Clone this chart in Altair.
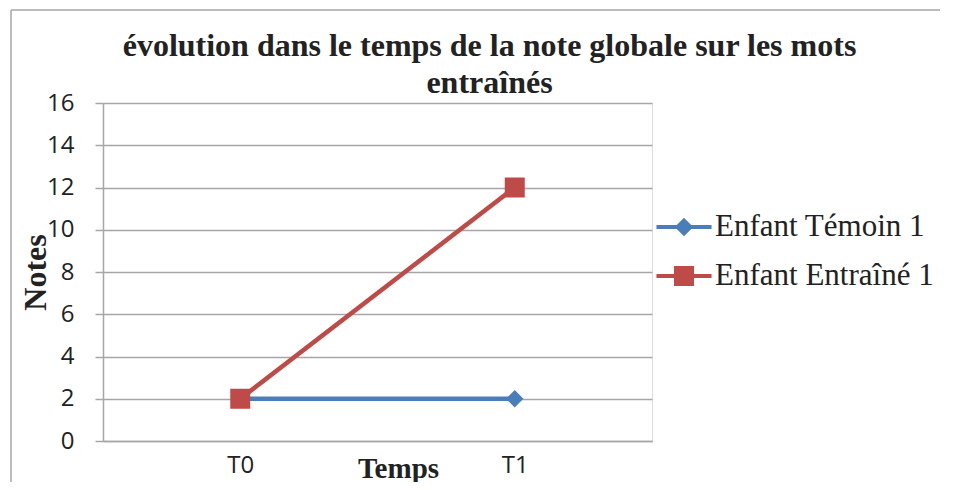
import altair as alt
import pandas as pd

times = ["T0", "T1"]
series_names = ["Enfant Témoin 1", "Enfant Entraîné 1"]
temoin = [2, 2]
entraine = [2, 12]
colors = ["#4A7EBB", "#BE4B48"]
y_ticks = [0, 2, 4, 6, 8, 10, 12, 14, 16]

rows = []
for s, vals in zip(series_names, [temoin, entraine]):
    for t, v in zip(times, vals):
        rows.append({"serie": s, "temps": t, "note": v})
df = pd.DataFrame(rows)

W, H = 549, 338
GRID = "#A6A6A6"

x_enc = alt.X("temps:N", scale=alt.Scale(type="point", padding=0.5, domain=times),
              axis=alt.Axis(title="Temps", labelAngle=0, ticks=False, grid=False,
                            domainColor=GRID, domainWidth=1.5,
                            labelFont="Open Sans", labelFontSize=24, labelColor="#222",
                            labelPadding=12,
                            titleFont="Liberation Serif", titleFontSize=29, titleFontWeight="bold",
                            titleColor="#222", titleX=295, titleY=36,
                            titleBaseline="alphabetic", titleAlign="center"))
y_enc = alt.Y("note:Q", scale=alt.Scale(domain=[0, 16], nice=False),
              axis=alt.Axis(title="Notes", values=y_ticks, grid=True, gridColor=GRID,
                            gridWidth=1.5, tickColor=GRID, tickSize=8, tickWidth=1.5,
                            domainColor=GRID, domainWidth=1.5,
                            labelFont="Open Sans", labelFontSize=24, labelColor="#222",
                            labelPadding=21,
                            titleFont="Liberation Serif", titleFontSize=32, titleFontWeight="bold",
                            titleColor="#222", titleAngle=270, titleX=-58, titleY=169,
                            titleBaseline="alphabetic", titleAlign="center"))

color_scale = alt.Scale(domain=series_names, range=colors)

base = alt.Chart(df)

pts_t = base.transform_filter(alt.datum.serie == series_names[0]).mark_point(
    shape="diamond", filled=True, size=300, opacity=1, color=colors[0]
).encode(x=x_enc, y=y_enc)

pts_e = base.transform_filter(alt.datum.serie == series_names[1]).mark_point(
    shape="square", filled=True, size=400, opacity=1, color=colors[1]
).encode(x=x_enc, y=y_enc)

line_t = base.transform_filter(alt.datum.serie == series_names[0]).mark_line(
    strokeWidth=4.5, color=colors[0]).encode(x=x_enc, y=y_enc)
line_e = base.transform_filter(alt.datum.serie == series_names[1]).mark_line(
    strokeWidth=4.5, color=colors[1]).encode(x=x_enc, y=y_enc)

# legend symbols: line segment + (stroked, concentric) marker
sym_diamond = ("M-1.62,0L1.62,0"
               "M0,-0.38L0.38,0L0,0.38L-0.38,0Z"
               "M0,-0.2L0.2,0L0,0.2L-0.2,0Z"
               "M0,-0.04L0.04,0L0,0.04L-0.04,0Z")
sym_square = ("M-1.62,0L1.62,0"
              "M-0.47,-0.47L0.47,-0.47L0.47,0.47L-0.47,0.47Z"
              "M-0.27,-0.27L0.27,-0.27L0.27,0.27L-0.27,0.27Z"
              "M-0.08,-0.08L0.08,-0.08L0.08,0.08L-0.08,0.08Z")

legend_layer = base.mark_point(filled=False, opacity=1, size=0, strokeWidth=4).encode(
    x=x_enc, y=y_enc,
    color=alt.Color("serie:N", scale=color_scale,
                    legend=alt.Legend(title=None, orient="none", legendX=562, legendY=105,
                                      labelFont="Liberation Serif", labelFontSize=31,
                                      labelColor="#222", labelOffset=12,
                                      symbolSize=1156, symbolStrokeWidth=4,
                                      symbolOpacity=1, rowPadding=15, padding=0,
                                      labelLimit=400)),
    shape=alt.Shape("serie:N", scale=alt.Scale(domain=series_names,
                                               range=[sym_diamond, sym_square])),
)

frame_data = alt.Data(values=[{"a": 1}])
frame_top = alt.Chart(frame_data).mark_rule(color="#A6A6A6", strokeWidth=1.5).encode(
    x=alt.value(-92), x2=alt.value(900), y=alt.value(-93))
frame_left = alt.Chart(frame_data).mark_rule(color="#A6A6A6", strokeWidth=1.5).encode(
    x=alt.value(-92), y=alt.value(-93), y2=alt.value(400))

chart = alt.layer(
    legend_layer, line_t, pts_t, line_e, pts_e, frame_top, frame_left
).properties(
    width=W, height=H,
    title=alt.TitleParams(
        text=["évolution dans le temps de la note globale sur les mots", "entraînés"],
        font="Liberation Serif", fontSize=32, fontWeight="bold", color="#222",
        anchor="middle", dx=112, lineHeight=37, offset=-116, baseline="alphabetic",
        frame="group",
    ),
    autosize=alt.AutoSizeParams(type="none"),
    padding={"left": 95, "top": 95, "right": 288, "bottom": 41},
).configure_view(stroke=None).configure(background="white")

chart.save("out.html", embed_options={"renderer": "svg", "actions": False})
